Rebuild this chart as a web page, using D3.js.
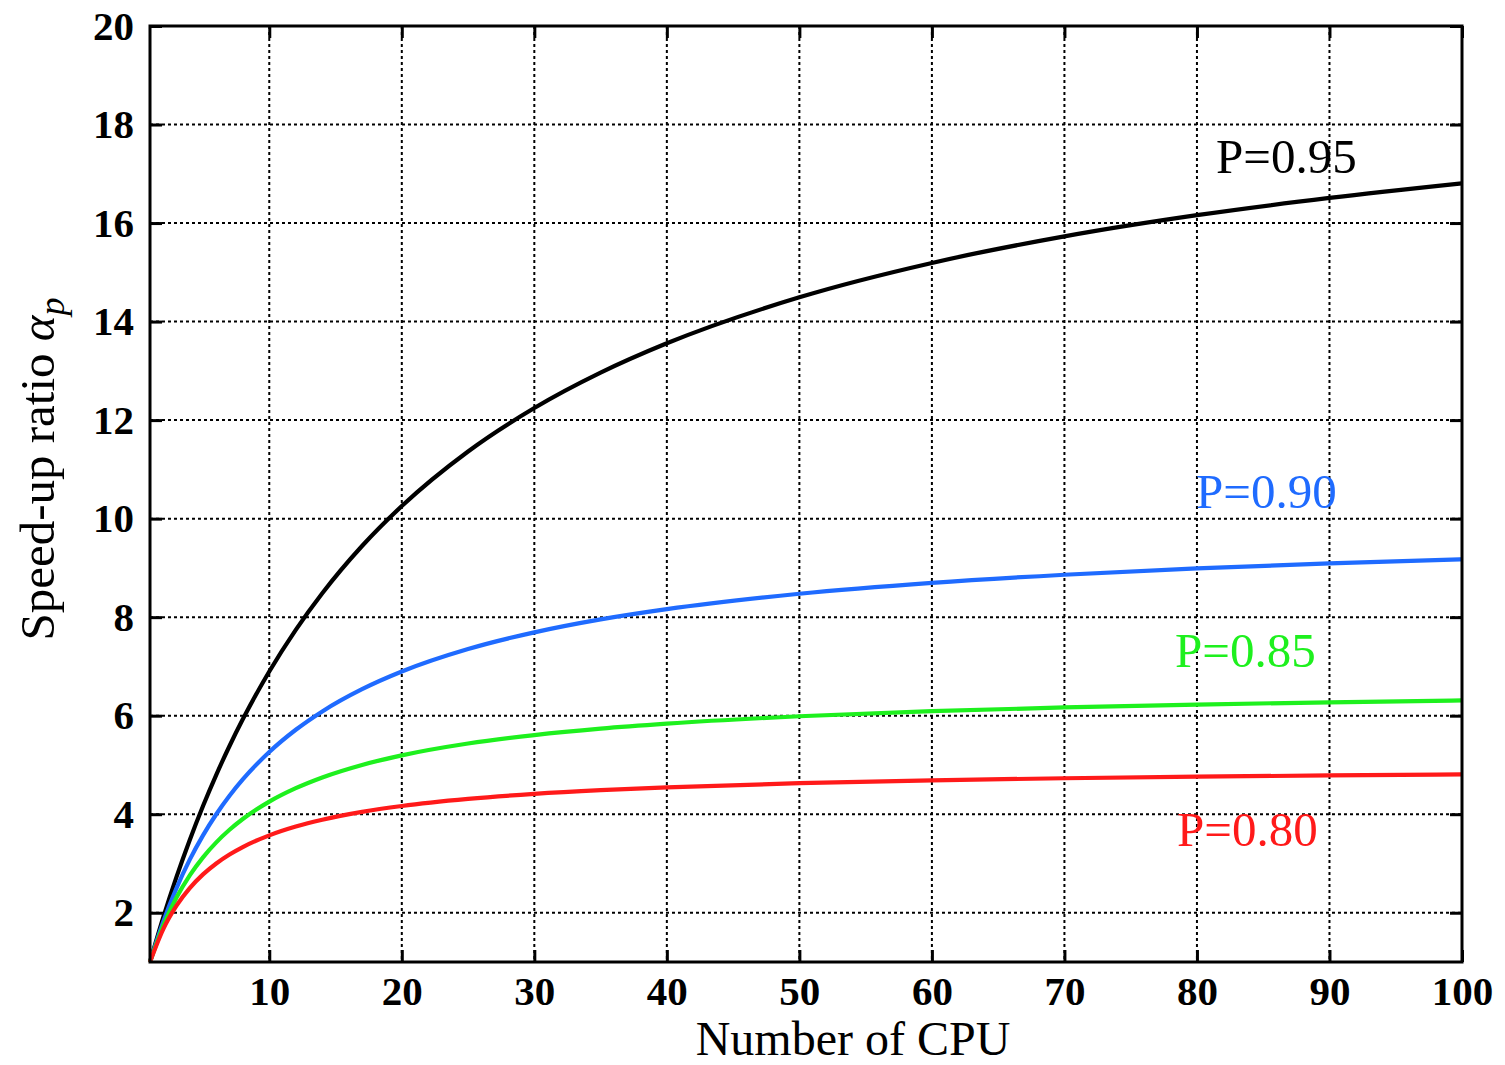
<!DOCTYPE html>
<html><head><meta charset="utf-8">
<script src="https://cdn.jsdelivr.net/npm/d3@7"></script>
<style>body{margin:0;background:#fff}svg{display:block}</style>
</head><body>
<svg id="c" width="1505" height="1065"></svg>
<script>
const cpus = [1,2,3,4,5,6,7,8,10,12,14,17,20,25,30,35,40,50,60,70,80,90,100];
const p95 = [1,1.905,2.727,3.478,4.167,4.8,5.385,5.926,6.897,7.742,8.485,9.444,10.256,11.364,12.245,12.963,13.559,14.493,15.19,15.73,16.16,16.51,16.807];
const p90 = [1,1.818,2.5,3.077,3.571,4,4.375,4.706,5.263,5.714,6.087,6.538,6.897,7.353,7.692,7.955,8.163,8.475,8.696,8.861,8.989,9.091,9.174];
const p85 = [1,1.739,2.308,2.759,3.125,3.429,3.684,3.902,4.255,4.528,4.746,5.0,5.195,5.435,5.607,5.738,5.839,5.988,6.091,6.167,6.226,6.272,6.309];
const p80 = [1,1.667,2.143,2.5,2.778,3.0,3.182,3.333,3.571,3.75,3.889,4.048,4.167,4.31,4.412,4.487,4.545,4.63,4.688,4.73,4.762,4.787,4.808];
const seriesNames = ["P=0.95","P=0.90","P=0.85","P=0.80"];
const xTicks = [10,20,30,40,50,60,70,80,90,100];
const yTicks = [2,4,6,8,10,12,14,16,18,20];

const series = [
  {name: seriesNames[0], values: p95, color: "#000000", lx: 1216, ly: 173},
  {name: seriesNames[1], values: p90, color: "#1f6bff", lx: 1196, ly: 508},
  {name: seriesNames[2], values: p85, color: "#1ef01e", lx: 1175, ly: 667},
  {name: seriesNames[3], values: p80, color: "#ff1a1a", lx: 1177, ly: 846}
];

const L = 150, R = 1462, T = 26, B = 962;
const svg = d3.select("#c");
const x = d3.scaleLinear().domain([1,100]).range([L,R]);
const y = d3.scaleLinear().domain([1,20]).range([B,T]);
const font = "'Liberation Serif','Times New Roman',serif";

// grid
const grid = svg.append("g");
grid.selectAll("line.gx").data(xTicks.filter(d=>d<100)).join("line")
  .attr("x1", d=>x(d)).attr("x2", d=>x(d)).attr("y1", T).attr("y2", B)
  .attr("stroke","#000").attr("stroke-width",2).attr("stroke-dasharray","3,3");
grid.selectAll("line.gy").data(yTicks.filter(d=>d<20)).join("line")
  .attr("y1", d=>y(d)).attr("y2", d=>y(d)).attr("x1", L).attr("x2", R)
  .attr("stroke","#000").attr("stroke-width",2).attr("stroke-dasharray","3,3");

// curves
const line = d3.line().x((d,i)=>x(cpus[i])).y(d=>y(d)).curve(d3.curveMonotoneX);
series.forEach(s=>{
  svg.append("path").attr("d", line(s.values)).attr("fill","none")
    .attr("stroke", s.color).attr("stroke-width",4.2).attr("stroke-linejoin","round");
});

// axes
const styleAxis = g => {
  g.select(".domain").remove();
  g.selectAll(".tick line").attr("stroke","#000").attr("stroke-width",3);
  g.selectAll(".tick text").attr("font-family",font).attr("font-size",41).attr("font-weight","bold").attr("fill","#000");
};
svg.append("g").attr("transform",`translate(0,${B})`)
  .call(d3.axisBottom(x).tickValues(xTicks).tickSize(-12).tickPadding(14).tickFormat(d3.format("d")))
  .call(styleAxis);
svg.append("g").attr("transform",`translate(${L},0)`)
  .call(d3.axisLeft(y).tickValues(yTicks).tickSize(-12).tickPadding(16).tickFormat(d3.format("d")))
  .call(styleAxis);
svg.append("g").attr("transform",`translate(0,${T})`)
  .call(d3.axisTop(x).tickValues(xTicks).tickSize(-12).tickFormat(""))
  .call(styleAxis);
svg.append("g").attr("transform",`translate(${R},0)`)
  .call(d3.axisRight(y).tickValues(yTicks).tickSize(-12).tickFormat(""))
  .call(styleAxis);

// frame
svg.append("rect").attr("x",L).attr("y",T).attr("width",R-L).attr("height",B-T)
  .attr("fill","none").attr("stroke","#000").attr("stroke-width",3);

// labels
series.forEach(s=>{
  svg.append("text").attr("x", s.lx).attr("y", s.ly).text(s.name)
    .attr("font-family",font).attr("font-size",49).attr("fill",s.color);
});

svg.append("text").attr("x", 853).attr("y", 1055).attr("text-anchor","middle")
  .attr("font-family",font).attr("font-size",48).text("Number of CPU");

const yl = svg.append("text").attr("transform","translate(54,469) rotate(-90)")
  .attr("text-anchor","middle").attr("font-family",font).attr("font-size",49);
yl.append("tspan").text("Speed-up ratio ");
yl.append("tspan").attr("font-style","italic").text("α");
yl.append("tspan").attr("font-style","italic").attr("font-size",36).attr("dy",10).text("p");
</script>
</body></html>
